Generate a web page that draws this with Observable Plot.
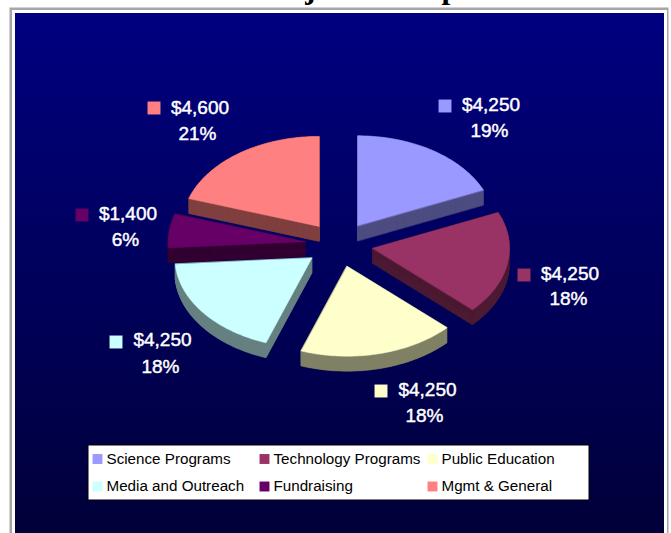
<!DOCTYPE html>
<html>
<head>
<meta charset="utf-8">
<style>
html,body{margin:0;padding:0;background:#fff;overflow:hidden}
svg{display:block}
</style>
<script src="https://cdn.jsdelivr.net/npm/d3@7"></script>
<script src="https://cdn.jsdelivr.net/npm/@observablehq/plot@0.6"></script>
</head>
<body>
<div id="chart"></div>
<script>
// ---- data ----
const categories = ["Science Programs","Technology Programs","Public Education","Media and Outreach","Fundraising","Mgmt & General"];
const amounts = [4250,4250,4250,4250,1400,4600];
const amountLabels = ["$4,250","$4,250","$4,250","$4,250","$1,400","$4,600"];
const percentLabels = ["19%","18%","18%","18%","6%","21%"];
const topColors = ["#9999ff","#993366","#ffffcc","#ccffff","#660066","#ff8080"];
const sideColors = ["#4d4d80","#4d1a33","#808066","#668080","#330033","#804040"];
const titleText = "Major Development";

// ---- layout ----
const W = 671, H = 533;
const pieCenter = [338.5, 244], radiusX = 137, radiusY = 90, explode = 34, depth = 15;
const amountX = [490.5,569.5,427,162,127.5,199.5];
const amountY = [104,273,389,339,213,107];
const percentX = [489,568,424,160,125,197];
const percentY = [130,298,415,366,239,133];
const squareX = [444.5,523.5,380.5,115.5,81.5,153.5];
const squareY = [105.5,274.5,390.5,341.5,214.5,107.5];
const legendX = [92,259,427,92,259,427];
const legendY = [458.5,458.5,458.5,486,486,486];

// ---- geometry from the values ----
const arcs = d3.pie().sort(null).value(d => d)(amounts);
const onEllipse = (a, rx, ry) => [Math.sin(a) * rx, -Math.cos(a) * ry];
const outlines = arcs.map((arc) => {
  const mid = (arc.startAngle + arc.endAngle) / 2;
  const [ox, oy] = onEllipse(mid, explode, explode * radiusY / radiusX);
  const ax = pieCenter[0] + ox, ay = pieCenter[1] + oy;
  const pts = [[ax, ay]];
  const n = Math.ceil((arc.endAngle - arc.startAngle) / 0.02);
  for (let k = 0; k <= n; k++) {
    const [dx, dy] = onEllipse(arc.startAngle + (arc.endAngle - arc.startAngle) * k / n, radiusX, radiusY);
    pts.push([ax + dx, ay + dy]);
  }
  return pts;
});
const sideRows = [], topRows = [];
outlines.forEach((pts, i) => {
  for (let d = depth; d >= 0; d -= 0.5)
    pts.forEach(([x, y]) => sideRows.push({id: `s${i}-${d}`, x, y: y + d, color: sideColors[i]}));
  pts.forEach(([x, y]) => topRows.push({id: `t${i}`, x, y, color: topColors[i]}));
});

const rows = categories.map((name, i) => ({
  name, amount: amountLabels[i], percent: percentLabels[i], color: topColors[i],
  ax: amountX[i], ay: amountY[i], px: percentX[i], py: percentY[i],
  sx: squareX[i], sy: squareY[i], lx: legendX[i], ly: legendY[i]
}));
const font = "'Liberation Sans', Arial, sans-serif";

const gradient = () => {
  const defs = d3.create("svg:defs");
  const g = defs.append("linearGradient").attr("id", "bg").attr("x1", 0).attr("x2", 0).attr("y1", 0).attr("y2", 1);
  g.append("stop").attr("offset", "0%").attr("stop-color", "#000080");
  g.append("stop").attr("offset", "100%").attr("stop-color", "#000038");
  return defs.node();
};

const chart = Plot.plot({
  width: W, height: H,
  margin: 0,
  x: {domain: [0, W], range: [0, W], axis: null},
  y: {domain: [0, H], range: [0, H], axis: null},
  style: {background: "#fff"},
  marks: [
    gradient,
    Plot.text([titleText], {x: 260, y: -12, text: d => d, textAnchor: "start", fontFamily: "'Liberation Serif', serif", fontWeight: "bold", fontSize: 31, fill: "#000"}),
    Plot.rect([0], {x1: 9.5, x2: 668.5, y1: 7.5, y2: 540, fill: "#a6a6a6"}),
    Plot.rect([0], {x1: 12, x2: 667, y1: 10, y2: 540, fill: "#fff"}),
    Plot.rect([0], {x1: 15, x2: 664, y1: 13, y2: 540, fill: "url(#bg)"}),
    Plot.line(sideRows, {x: "x", y: "y", z: "id", fill: "color", stroke: "color", strokeWidth: 0.5, curve: "linear-closed"}),
    Plot.line(topRows, {x: "x", y: "y", z: "id", fill: "color", stroke: "color", strokeWidth: 0.5, curve: "linear-closed"}),
    // data labels
    Plot.dot(rows, {x: "sx", y: "sy", symbol: "square", r: 7.3, fill: "color", stroke: "none"}),
    Plot.text(rows, {x: "ax", y: "ay", text: "amount", fill: "#fff", stroke: "#fff", strokeWidth: 0.45, fontSize: 19, fontFamily: font}),
    Plot.text(rows, {x: "px", y: "py", text: "percent", fill: "#fff", stroke: "#fff", strokeWidth: 0.45, fontSize: 19, fontFamily: font}),
    // legend
    Plot.rect([0], {x1: 88, x2: 589, y1: 445, y2: 500, fill: "#fff", stroke: "#000", strokeWidth: 1}),
    Plot.dot(rows, {x: d => d.lx + 5, y: "ly", symbol: "square", r: 5.6, fill: "color", stroke: "none"}),
    Plot.text(rows, {x: d => d.lx + 14, y: "ly", text: "name", textAnchor: "start", fill: "#000", fontSize: 15.2, fontFamily: font})
  ]
});
document.getElementById("chart").appendChild(chart);
</script>
</body>
</html>
